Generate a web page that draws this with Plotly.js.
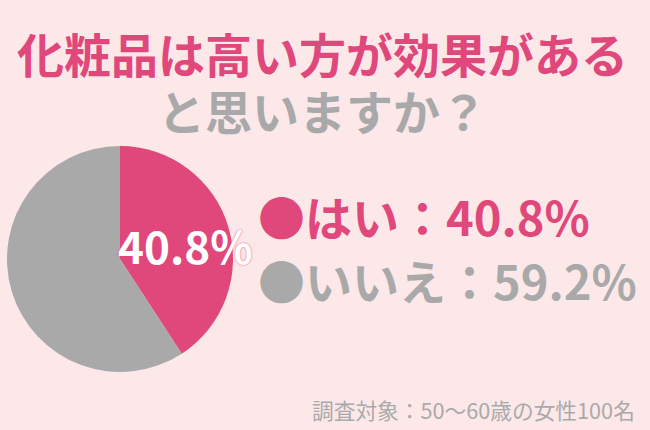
<!DOCTYPE html>
<html><head><meta charset="utf-8">
<script src="https://cdn.plot.ly/plotly-3.0.1.min.js"></script>
<style>html,body{margin:0;padding:0;background:#fde8e9;}#chart{width:650px;height:430px;}</style>
</head><body><div id="chart"></div>
<script>
const titleLine1 = "化粧品は高い方が効果がある";
const titleLine2 = "と思いますか？";
const categories = ["はい", "いいえ"];
const values = [40.8, 59.2];
const colors = ["#e0487c", "#a9a9a9"];
const note = "調査対象：50〜60歳の女性100名";

const FONT = "'Noto Sans CJK JP', 'Noto Sans', sans-serif";
const fmt = v => v.toFixed(1) + "%";

const trace = {
  type: "pie",
  labels: categories,
  values: values,
  sort: false,
  direction: "clockwise",
  rotation: 0,
  marker: {colors: colors, line: {width: 0}},
  textinfo: "none",
  hoverinfo: "none",
  showlegend: false,
  domain: {x: [7/650, 233/650], y: [1 - 372/430, 1 - 146/430]}
};

const titleText =
  '<span style="font-size:47px;color:' + colors[0] + '"><b>' + titleLine1 + '</b></span><br>' +
  '<span style="font-size:47px;color:' + colors[1] + '"><b>' + titleLine2 + '</b></span>';

const annotations = [
  {text: titleText, x: 322/650, y: 1 - 80.5/430, font: {size: 44, color: colors[0], family: FONT}},
  {text: "<b>" + fmt(values[0]) + "</b>", x: 185/650, y: 1 - 245/430,
   font: {size: 44, color: "#ffffff", family: FONT, shadow: "0 0 2px " + colors[0]}},
  {text: "<b>●" + categories[0] + "：" + fmt(values[0]) + "</b>", x: 256/650, y: 1 - 215/430, xanchor: "left",
   font: {size: 47, color: colors[0], family: FONT}},
  {text: "<b>●" + categories[1] + "：" + fmt(values[1]) + "</b>", x: 256/650, y: 1 - 279/430, xanchor: "left",
   font: {size: 47, color: colors[1], family: FONT}},
  {text: note, x: 637/650, y: 1 - 409/430, xanchor: "right",
   font: {size: 21.7, color: "#aaaaaa", family: FONT}}
].map(a => Object.assign({xref: "paper", yref: "paper", showarrow: false, xanchor: "center", yanchor: "middle"}, a));

const layout = {
  width: 650, height: 430,
  margin: {l: 0, r: 0, t: 0, b: 0},
  paper_bgcolor: "#fde8e9",
  plot_bgcolor: "#fde8e9",
  annotations: annotations
};

Plotly.newPlot("chart", [trace], layout, {displayModeBar: false, staticPlot: true});
</script>
</body></html>
